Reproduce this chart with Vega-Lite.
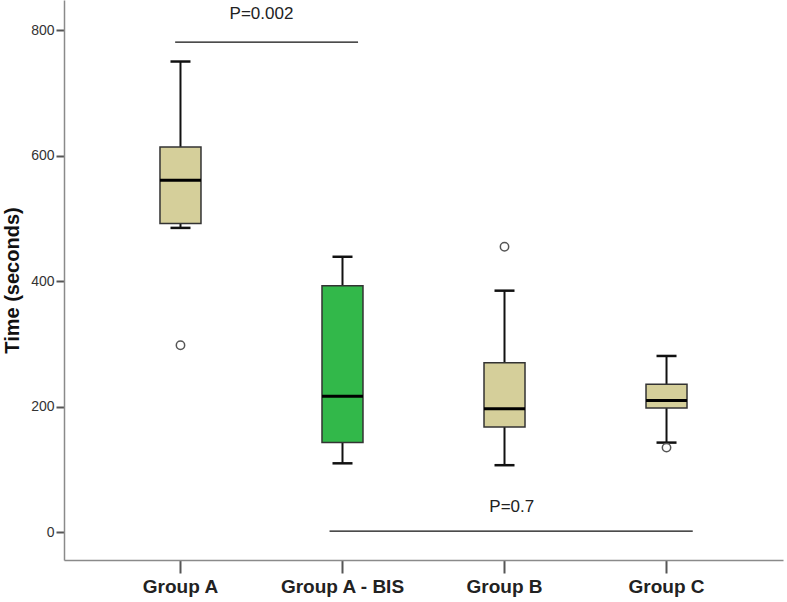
{
  "$schema": "https://vega.github.io/schema/vega-lite/v6.json",
  "width": 719,
  "height": 560,
  "autosize": "none",
  "padding": {"left": 64, "top": 0, "right": 4, "bottom": 42},
  "background": "white",
  "config": {"view": {"stroke": null}, "font": "Liberation Sans"},
  "datasets": {
    "boxes": [
      {"group": "Group A", "lower": 485, "q1": 492, "median": 561, "q3": 614, "upper": 750},
      {"group": "Group A - BIS", "lower": 110, "q1": 143, "median": 217, "q3": 393, "upper": 439},
      {"group": "Group B", "lower": 107, "q1": 168, "median": 197, "q3": 270, "upper": 385},
      {"group": "Group C", "lower": 143, "q1": 198, "median": 210, "q3": 236, "upper": 281}
    ],
    "outliers": [
      {"group": "Group A", "time": 298},
      {"group": "Group B", "time": 455},
      {"group": "Group C", "time": 135}
    ],
    "annot": [
      {"x1": -0.033, "x2": 1.096, "y": 781, "tx": 0.5, "ty": 826, "label": "P=0.002"},
      {"x1": 0.92, "x2": 3.162, "y": 2, "tx": 2.045, "ty": 40, "label": "P=0.7"}
    ]
  },
  "layer": [
    {
      "data": {"name": "boxes"},
      "encoding": {
        "x": {
          "field": "group", "type": "nominal",
          "sort": ["Group A", "Group A - BIS", "Group B", "Group C"],
          "scale": {"domain": ["Group A", "Group A - BIS", "Group B", "Group C"], "paddingInner": 0, "paddingOuter": 0.219},
          "axis": {
            "title": null, "labelAngle": 0, "labelFontSize": 19, "labelFontWeight": "bold",
            "labelColor": "#222", "labelPadding": 4, "domainColor": "#8a8a8a", "domainWidth": 1.5,
            "tickColor": "#555", "tickSize": 13, "tickWidth": 2
          }
        },
        "y": {
          "type": "quantitative",
          "scale": {"domain": [-44, 848], "nice": false, "zero": false},
          "axis": {
            "values": [0, 200, 400, 600, 800], "grid": false, "title": "Time (seconds)",
            "titleFontSize": 20, "titleFontWeight": "bold", "titleColor": "#111", "titlePadding": 8,
            "labelFontSize": 14, "labelColor": "#333", "labelPadding": 2,
            "domainColor": "#8a8a8a", "domainWidth": 1.5, "tickColor": "#555", "tickSize": 8, "tickWidth": 2
          }
        }
      },
      "layer": [
        {"mark": {"type": "rule", "color": "#111", "strokeWidth": 2}, "encoding": {"y": {"field": "lower", "type": "quantitative"}, "y2": {"field": "q1"}}},
        {"mark": {"type": "rule", "color": "#111", "strokeWidth": 2}, "encoding": {"y": {"field": "q3", "type": "quantitative"}, "y2": {"field": "upper"}}},
        {"mark": {"type": "tick", "color": "#111", "size": 20, "thickness": 2.5, "opacity": 1}, "encoding": {"y": {"field": "lower", "type": "quantitative"}}},
        {"mark": {"type": "tick", "color": "#111", "size": 20, "thickness": 2.5, "opacity": 1}, "encoding": {"y": {"field": "upper", "type": "quantitative"}}},
        {
          "mark": {"type": "bar", "width": 41, "stroke": "#333", "strokeWidth": 1.5, "opacity": 1},
          "encoding": {
            "y": {"field": "q1", "type": "quantitative"},
            "y2": {"field": "q3"},
            "color": {
              "field": "group", "type": "nominal",
              "scale": {"domain": ["Group A", "Group A - BIS", "Group B", "Group C"], "range": ["#d5cf9a", "#32b84a", "#d5cf9a", "#d5cf9a"]},
              "legend": null
            }
          }
        },
        {"mark": {"type": "tick", "color": "#000", "size": 41, "thickness": 3, "opacity": 1}, "encoding": {"y": {"field": "median", "type": "quantitative"}}},
        {
          "data": {"name": "outliers"},
          "mark": {"type": "point", "shape": "circle", "filled": false, "fill": "white", "stroke": "#555", "strokeWidth": 1.5, "size": 70, "opacity": 1},
          "encoding": {"y": {"field": "time", "type": "quantitative"}}
        }
      ]
    },
    {
      "data": {"name": "annot"},
      "encoding": {
        "x": {"type": "quantitative", "scale": {"domain": [-0.7191, 3.7191], "nice": false, "zero": false}, "axis": null}
      },
      "layer": [
        {
          "mark": {"type": "rule", "color": "#111", "strokeWidth": 1.2},
          "encoding": {"x": {"field": "x1", "type": "quantitative"}, "x2": {"field": "x2"}, "y": {"field": "y", "type": "quantitative"}}
        },
        {
          "mark": {"type": "text", "fontSize": 17, "color": "#222", "baseline": "middle", "align": "center"},
          "encoding": {"x": {"field": "tx", "type": "quantitative"}, "y": {"field": "ty", "type": "quantitative"}, "text": {"field": "label"}}
        }
      ]
    }
  ],
  "resolve": {"scale": {"x": "independent"}}
}
